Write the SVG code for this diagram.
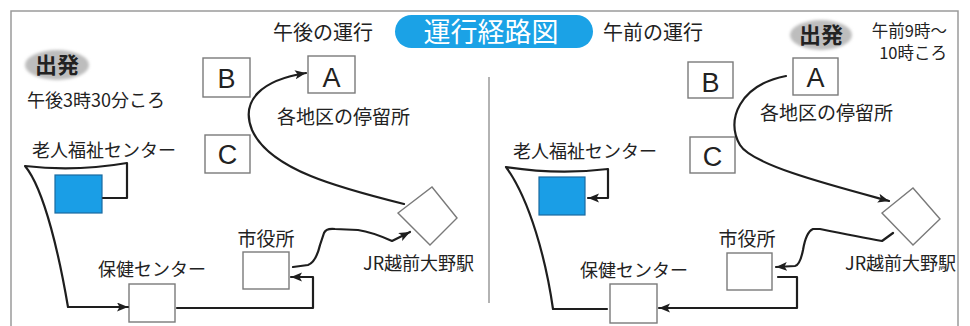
<svg xmlns="http://www.w3.org/2000/svg" width="970" height="326" viewBox="0 0 970 326">
<defs>
<style>
.t{font-family:"Noto Sans CJK JP","Noto Sans",sans-serif;fill:#222;}
.lt{font-family:"Liberation Sans",Arial,sans-serif;fill:#222;font-size:27px;text-anchor:middle;}
.box{fill:#fff;stroke:#7a7a7a;stroke-width:1.4;}
.blue{fill:#1a9ee6;stroke:#1a6aa0;stroke-width:1.2;}
.c{fill:none;stroke:#1e1e1e;stroke-width:2.2;stroke-linejoin:round;stroke-linecap:round;}
.ca{marker-end:url(#ah);}
</style>
<marker id="ah" markerUnits="userSpaceOnUse" markerWidth="12" markerHeight="10" refX="11" refY="4.5" orient="auto">
<path d="M0,0 L11,4.5 L0,9 L2.5,4.5 z" fill="#1e1e1e"/>
</marker>
<filter id="soft" x="-20%" y="-30%" width="140%" height="160%"><feGaussianBlur stdDeviation="1.6"/></filter>
</defs>
<rect width="970" height="326" fill="#fff"/>
<rect x="11" y="11" width="947" height="330" fill="none" stroke="#9a9a9a" stroke-width="1.5"/>
<line x1="489" y1="77" x2="489" y2="303" stroke="#9a9a9a" stroke-width="1.5"/>

<g id="title">
<rect x="395" y="15" width="198" height="33" rx="16.5" fill="#1ba2e6"/>
<text class="t" x="491" y="42" font-size="27" style="fill:#fff" text-anchor="middle">運行経路図</text>
</g>
<g id="heading-pm"><text class="t" x="273" y="39.5" font-size="20">午後の運行</text></g>
<g id="heading-am"><text class="t" x="603" y="39.5" font-size="20">午前の運行</text></g>

<!-- Left panel (afternoon) -->
<g id="L-start">
<ellipse cx="57" cy="65" rx="32" ry="15" fill="#bdbdbd" filter="url(#soft)"/>
<text class="t" x="57" y="73" font-size="22" font-weight="bold" text-anchor="middle">出発</text>
<text class="t" x="27" y="107" font-size="18">午後3時30分ころ</text>
</g>
<g id="L-B"><rect class="box" x="203" y="58" width="47" height="39"/><text class="lt" x="226.5" y="88">B</text></g>
<g id="L-A"><rect class="box" x="308" y="56" width="47" height="37"/><text class="lt" x="331.5" y="87">A</text></g>
<g id="L-C"><rect class="box" x="205" y="135" width="45" height="38"/><text class="lt" x="227.5" y="164">C</text></g>
<g id="L-stops"><text class="t" x="277" y="124" font-size="19">各地区の停留所</text></g>
<g id="L-rojin">
<text class="t" x="32" y="157" font-size="18">老人福祉センター</text>
<rect class="blue" x="55" y="175" width="47" height="38"/>
</g>
<g id="L-hoken">
<text class="t" x="98" y="276" font-size="18">保健センター</text>
<rect class="box" x="129" y="284" width="46" height="38"/>
</g>
<g id="L-shiyakusho">
<text class="t" x="266" y="245.5" font-size="19" text-anchor="middle">市役所</text>
<rect class="box" x="243" y="252" width="46" height="37"/>
</g>
<g id="L-station">
<polygon class="box" points="432,187 457,218 430,245 398,213"/>
<text class="t" x="363" y="270" font-size="18">JR越前大野駅</text>
</g>

<!-- Right panel (morning) -->
<g id="R-start">
<ellipse cx="821" cy="35" rx="31" ry="15" fill="#bdbdbd" filter="url(#soft)"/>
<text class="t" x="821" y="43" font-size="22" font-weight="bold" text-anchor="middle">出発</text>
<text class="t" x="947" y="37" font-size="16.5" text-anchor="end">午前9時～</text>
<text class="t" x="947" y="59" font-size="16.5" text-anchor="end">10時ころ</text>
</g>
<g id="R-B"><rect class="box" x="688" y="62" width="45" height="36"/><text class="lt" x="710.5" y="92">B</text></g>
<g id="R-A"><rect class="box" x="793" y="58" width="45" height="37"/><text class="lt" x="815.5" y="87">A</text></g>
<g id="R-C"><rect class="box" x="690" y="137" width="45" height="36"/><text class="lt" x="712.5" y="166">C</text></g>
<g id="R-stops"><text class="t" x="760" y="120" font-size="19">各地区の停留所</text></g>
<g id="R-rojin">
<text class="t" x="513" y="157.5" font-size="18">老人福祉センター</text>
<rect class="blue" x="539" y="177" width="46" height="38"/>
</g>
<g id="R-hoken">
<text class="t" x="580" y="277" font-size="18">保健センター</text>
<rect class="box" x="610" y="284" width="47" height="39"/>
</g>
<g id="R-shiyakusho">
<text class="t" x="747" y="246" font-size="19" text-anchor="middle">市役所</text>
<rect class="box" x="727" y="253" width="45" height="37"/>
</g>
<g id="R-station">
<polygon class="box" points="913,188 940,219 913,245 882,213"/>
<text class="t" x="845" y="269.5" font-size="18">JR越前大野駅</text>
</g>

<g id="connectors">
<!-- left -->
<path class="c ca" d="M103,198 H127 V163 Q75,172 25,166 C45,190 60,260 68,307 H128"/>
<path class="c ca" d="M177,308 H313 V277 H291"/>
<path class="c ca" d="M293,267 L308,265 Q316,262 320,245 L324,233 Q326,228 335,229 L358,230 Q372,232 392,241 L410,232"/>
<path class="c ca" d="M404,204 C340,188 270,170 252,130 C240,100 262,80 306,73"/>
<!-- right -->
<path class="c ca" d="M786,76 C740,85 725,120 740,145 C752,165 830,185 889,201"/>
<path class="c ca" d="M893,233 L882,241 Q860,237 820,229 L813,229 Q806,232 803,250 Q800,265 795,266 L776,267"/>
<path class="c ca" d="M778,277 H797 V308 H659"/>
<path class="c ca" d="M607,309 H553 C546,260 530,200 506,167 Q557,175 608,169 V198 H588"/>
</g>
</svg>
